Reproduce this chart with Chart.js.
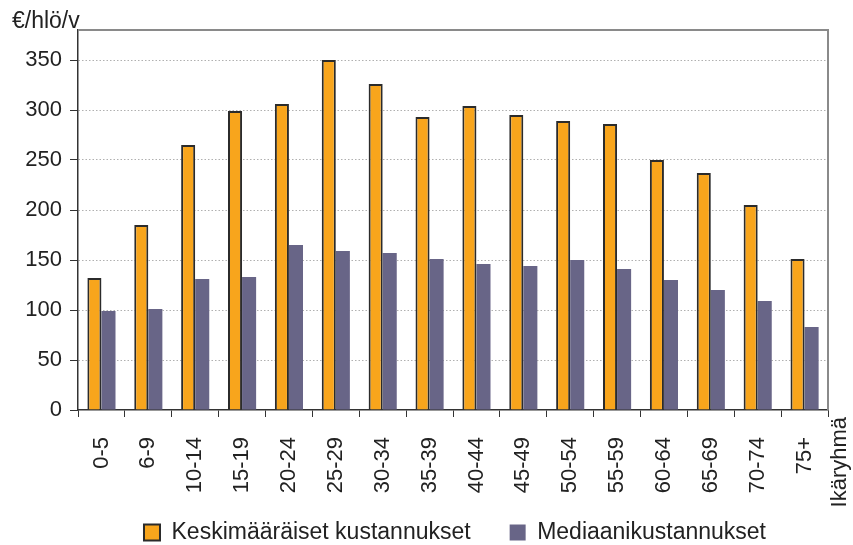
<!DOCTYPE html>
<html>
<head>
<meta charset="utf-8">
<script src="https://cdn.jsdelivr.net/npm/chart.js@4.4.0/dist/chart.umd.min.js"></script>
<style>
  html, body { margin: 0; padding: 0; background: #fff; }
  #wrap { width: 853px; height: 545px; }
</style>
</head>
<body>
<div id="wrap"><canvas id="chart"></canvas></div>
<script>
const ageGroups = ["0-5", "6-9", "10-14", "15-19", "20-24", "25-29", "30-34", "35-39",
  "40-44", "45-49", "50-54", "55-59", "60-64", "65-69", "70-74", "75+"];
const meanCosts = [132, 185, 265, 299, 306, 350, 326, 293, 304, 295, 289, 286, 250, 237, 205, 151];
const medianCosts = [99, 101, 131, 133, 165, 159, 157, 151, 146, 144, 150, 141, 130, 120, 109, 83];
const yTicks = [0, 50, 100, 150, 200, 250, 300, 350];

const FONT = "'Liberation Sans', Arial, sans-serif";
const TEXT = "#222";

// extra texts, frame lines and legend placement
const extras = {
  id: "extras",
  afterLayout(chart) {
    const lg = chart.legend;
    lg.left += 41; lg.right += 41;
    lg.top += 9; lg.bottom += 9;
    // let the rotated x labels run into the legend band
    chart.scales.x.bottom = chart.height;
  },
  afterDraw(chart) {
    const { ctx, chartArea } = chart;
    ctx.save();
    ctx.strokeStyle = "#8a8a8a";
    ctx.lineWidth = 2;
    ctx.beginPath();
    ctx.moveTo(chartArea.left, chartArea.top);
    ctx.lineTo(chartArea.right, chartArea.top);
    ctx.lineTo(chartArea.right, chartArea.bottom);
    ctx.stroke();

    ctx.fillStyle = TEXT;
    ctx.font = "23px " + FONT;
    ctx.textBaseline = "alphabetic";
    ctx.textAlign = "left";
    ctx.fillText("€/hlö/v", 12, 28);

    ctx.font = "22px " + FONT;
    ctx.translate(846, 417);
    ctx.rotate(-Math.PI / 2);
    ctx.textAlign = "right";
    ctx.fillText("Ikäryhmä", 0, 0);
    ctx.restore();
  }
};

new Chart(document.getElementById("chart"), {
  type: "bar",
  data: {
    labels: ageGroups,
    datasets: [
      {
        label: "Keskimääräiset kustannukset",
        data: meanCosts,
        backgroundColor: "#f8a51c",
        borderColor: "#2b2b2b",
        borderWidth: 2,
      },
      {
        label: "Mediaanikustannukset",
        data: medianCosts,
        backgroundColor: "#686587",
        borderWidth: 0,
      },
    ],
  },
  plugins: [extras],
  options: {
    responsive: true,
    maintainAspectRatio: false,
    animation: false,
    layout: { padding: { top: 30, right: 25, left: 0, bottom: 0 } },
    datasets: { bar: { categoryPercentage: 0.6, barPercentage: 1 } },
    plugins: {
      tooltip: { enabled: false },
      legend: {
        position: "bottom",
        labels: {
          font: { family: FONT, size: 23 },
          color: TEXT,
          boxWidth: 16,
          boxHeight: 16,
          padding: 39,
        },
      },
    },
    scales: {
      x: {
        afterFit: (s) => { s.height = 63; },
        grid: {
          drawOnChartArea: false,
          tickLength: 7,
          tickColor: "#333",
          offset: true,
        },
        border: { color: "#333", width: 1.5 },
        ticks: {
          autoSkip: false,
          maxRotation: 90,
          minRotation: 90,
          padding: 20,
          color: TEXT,
          font: { family: FONT, size: 22 },
        },
      },
      y: {
        min: 0,
        max: 380,
        afterFit: (s) => { s.width = 78; },
        afterBuildTicks: (s) => { s.ticks = yTicks.map((v) => ({ value: v })); },
        grid: {
          color: (c) => (c.tick && c.tick.value === 0 ? "rgba(0,0,0,0)" : "#b0b0b0"),
          borderDash: [1.5, 2],
          tickColor: "#333",
          tickLength: 8,
          tickBorderDash: [],
        },
        border: { color: "#333", width: 1.5, dash: [1.5, 2] },
        ticks: {
          padding: 8,
          color: TEXT,
          font: { family: FONT, size: 22 },
        },
      },
    },
  },
});
</script>
</body>
</html>
